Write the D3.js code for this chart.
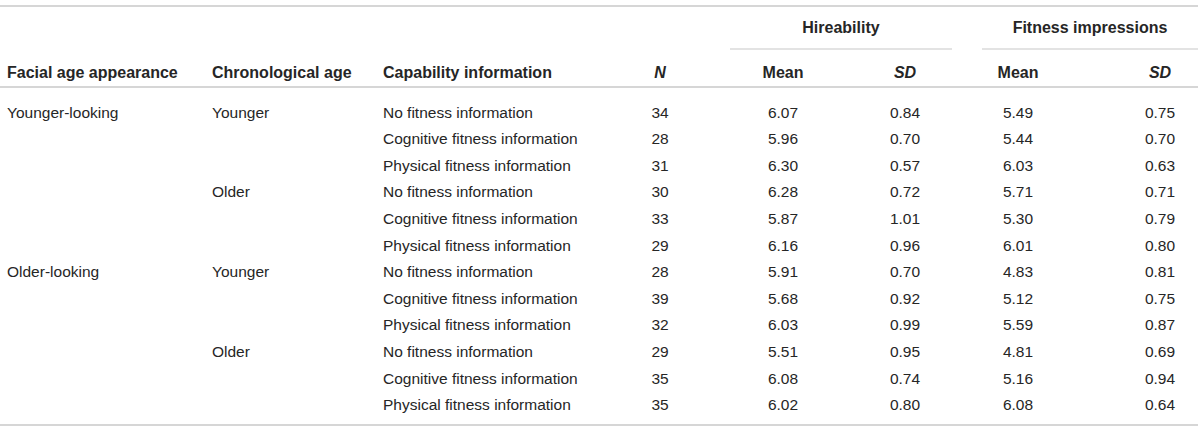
<!DOCTYPE html>
<html>
<head>
<meta charset="utf-8">
<script src="https://cdn.jsdelivr.net/npm/d3@7"></script>
<style>
  body { margin: 0; background: #fff; }
  text { font-family: "Liberation Sans", Arial, sans-serif; font-size: 15.5px; fill: #262626; }
  text.head { font-size: 16px; font-weight: bold; }
</style>
</head>
<body>
<script>
// table data
var facial = ["Younger-looking", "", "", "", "", "", "Older-looking", "", "", "", "", ""]
var chrono = ["Younger", "", "", "Older", "", "", "Younger", "", "", "Older", "", ""]
var capability = ["No fitness information", "Cognitive fitness information", "Physical fitness information",
                  "No fitness information", "Cognitive fitness information", "Physical fitness information",
                  "No fitness information", "Cognitive fitness information", "Physical fitness information",
                  "No fitness information", "Cognitive fitness information", "Physical fitness information"]
var nValues = [34, 28, 31, 30, 33, 29, 28, 39, 32, 29, 35, 35]
var hireMean = ["6.07", "5.96", "6.30", "6.28", "5.87", "6.16", "5.91", "5.68", "6.03", "5.51", "6.08", "6.02"]
var hireSD = ["0.84", "0.70", "0.57", "0.72", "1.01", "0.96", "0.70", "0.92", "0.99", "0.95", "0.74", "0.80"]
var fitMean = ["5.49", "5.44", "6.03", "5.71", "5.30", "6.01", "4.83", "5.12", "5.59", "4.81", "5.16", "6.08"]
var fitSD = ["0.75", "0.70", "0.63", "0.71", "0.79", "0.80", "0.81", "0.75", "0.87", "0.69", "0.94", "0.64"]

var groupHeaders = ["Hireability", "Fitness impressions"]
var colHeaders = ["Facial age appearance", "Chronological age", "Capability information", "N", "Mean", "SD", "Mean", "SD"]

var width = 1200, height = 432;
var svg = d3.select("body").append("svg")
    .attr("width", width)
    .attr("height", height);

// rows
var y = d3.scaleBand()
    .domain(d3.range(nValues.length))
    .range([99, 418]);

// columns: x position and anchor
var cols = [
    {x: 7, anchor: "start", italic: false},
    {x: 212, anchor: "start", italic: false},
    {x: 383, anchor: "start", italic: false},
    {x: 660, anchor: "middle", italic: true},
    {x: 783, anchor: "middle", italic: false},
    {x: 905, anchor: "middle", italic: true},
    {x: 1018, anchor: "middle", italic: false},
    {x: 1160, anchor: "middle", italic: true}
];

var lineColor = "#c8c8c8";
function hline(x1, x2, yy, w){
    svg.append("line")
        .attr("x1", x1).attr("x2", x2)
        .attr("y1", yy).attr("y2", yy)
        .style("stroke", lineColor)
        .style("stroke-width", w || 1.5);
}

hline(0, 1198, 6);
hline(0, 1198, 87);
hline(0, 1198, 425);
hline(730, 952, 49, 1.2);
hline(982, 1198, 49, 1.2);

// group headers
svg.selectAll("text.group")
    .data(groupHeaders)
    .enter()
    .append("text")
    .attr("class", "group head")
    .attr("x", (d, i) => i == 0 ? 841 : 1090)
    .attr("y", 27)
    .attr("dy", "0.35em")
    .attr("text-anchor", "middle")
    .text(d => d);

// column headers
svg.selectAll("text.colhead")
    .data(colHeaders)
    .enter()
    .append("text")
    .attr("class", "colhead head")
    .attr("x", (d, i) => cols[i].x)
    .attr("y", 72)
    .attr("dy", "0.35em")
    .attr("text-anchor", (d, i) => cols[i].anchor)
    .style("font-style", (d, i) => cols[i].italic ? "italic" : "normal")
    .text(d => d);

// body cells
var columns = [facial, chrono, capability, nValues, hireMean, hireSD, fitMean, fitSD];
columns.forEach((colData, ci) => {
    svg.selectAll("text.c" + ci)
        .data(colData)
        .enter()
        .append("text")
        .attr("class", "c" + ci)
        .attr("x", cols[ci].x)
        .attr("y", (d, i) => y(i) + y.bandwidth() / 2)
        .attr("dy", "0.35em")
        .attr("text-anchor", cols[ci].anchor)
        .text(d => d);
});
</script>
</body>
</html>
